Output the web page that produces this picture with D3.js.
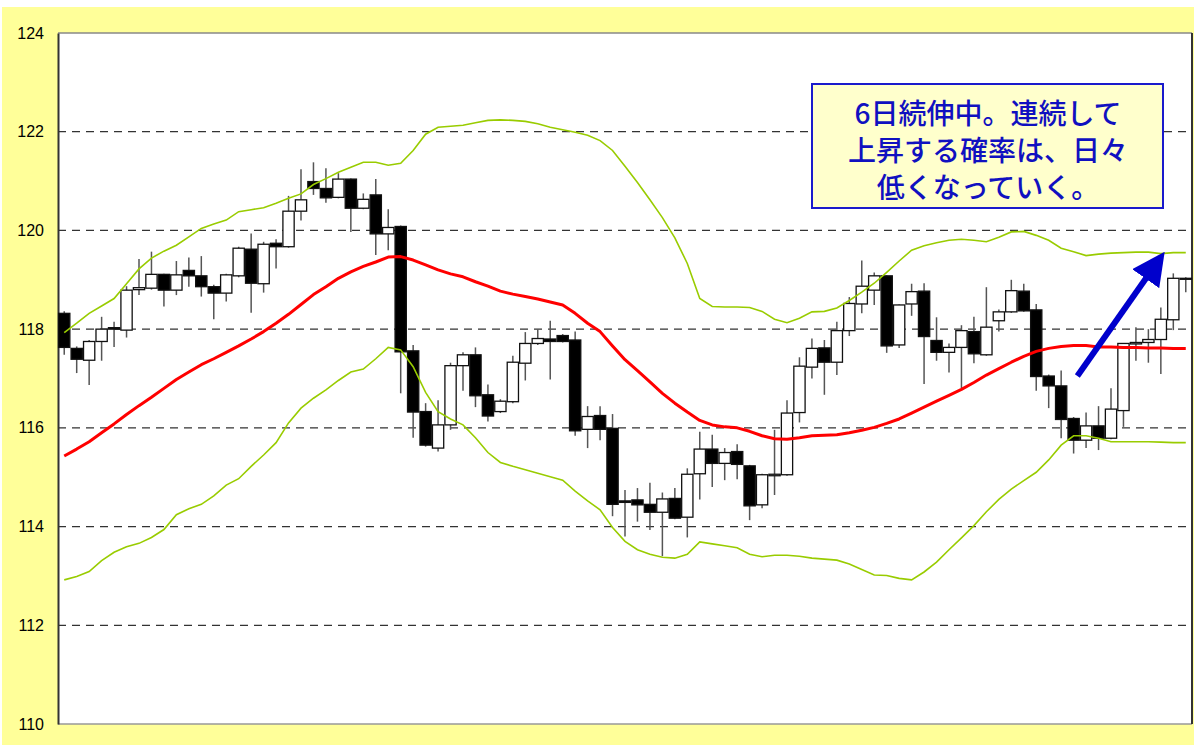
<!DOCTYPE html>
<html lang="ja">
<head>
	<meta charset="utf-8">
	<title>ローソク足とボリンジャーバンド</title>
	<style>
		body { margin: 0; background: #fff; }
		svg { display: block; }
	</style>
</head>
<body>

<script src="https://cdnjs.cloudflare.com/ajax/libs/d3/7.8.5/d3.min.js" charset="utf-8"></script>
<script>
	// 日足 (始値, 高値, 安値, 終値)
	var opens  = [118.32,117.61,117.37,117.75,118.03,117.98,118.80,118.83,119.11,118.79,
	              119.19,119.08,118.86,118.73,119.08,119.62,118.92,119.74,119.67,120.39,
	              120.99,120.85,120.67,121.04,120.45,120.72,119.93,120.08,117.56,116.33,
	              115.59,116.06,117.26,117.48,116.67,116.33,116.53,117.31,117.71,117.80,
	              117.87,117.78,115.97,116.25,115.99,114.52,114.54,114.45,114.29,114.57,
	              114.19,115.07,115.57,115.28,115.52,115.23,114.44,115.03,115.05,116.31,
	              117.23,117.62,117.33,117.97,118.51,118.79,119.08,117.68,118.51,118.77,
	              117.77,117.53,117.63,117.95,117.48,118.17,118.35,118.77,118.39,117.05,
	              116.85,116.19,115.75,116.04,115.79,116.35,117.70,117.73,117.79,118.19,
	              119.01];
	var highs  = [118.36,117.65,117.78,118.25,118.15,118.87,119.42,119.57,119.12,119.38,
	              119.45,119.48,118.90,119.12,119.67,119.94,119.77,119.82,120.70,121.24,
	              121.38,121.26,121.16,121.05,120.75,121.04,120.43,120.10,117.68,116.50,
	              116.56,117.32,117.53,117.63,116.88,116.58,117.46,117.94,118.00,118.17,
	              117.90,117.95,116.44,116.44,116.28,114.74,114.78,114.89,114.69,114.78,
	              115.18,115.92,115.86,115.59,115.67,115.25,115.07,115.96,116.56,117.43,
	              117.81,117.78,118.15,118.65,119.39,119.15,119.09,118.50,118.92,118.93,
	              118.24,117.71,118.08,118.25,118.85,118.40,119.00,118.92,118.51,117.08,
	              117.16,116.22,116.31,116.44,116.80,117.71,118.04,118.00,118.44,119.13,
	              119.05];
	var lows   = [117.48,117.11,116.87,117.36,117.64,117.83,118.69,118.80,118.46,118.69,
	              118.86,118.66,118.20,118.56,119.05,118.33,118.74,119.23,119.65,120.20,
	              120.72,120.56,120.65,119.97,120.43,119.50,119.60,116.70,115.80,115.62,
	              115.52,115.96,116.75,116.42,116.13,116.30,116.50,116.96,117.68,116.98,
	              117.73,115.84,115.59,115.75,114.21,113.80,114.10,113.93,113.40,114.15,
	              113.78,114.55,114.80,114.94,114.96,114.13,114.37,114.64,115.03,116.11,
	              117.00,116.67,117.07,117.86,118.32,118.49,117.52,117.62,118.27,116.89,
	              117.36,117.12,116.80,117.31,117.46,117.95,118.33,118.35,116.75,116.40,
	              115.79,115.48,115.59,115.55,115.77,116.02,117.36,117.32,117.09,117.98,
	              118.75];
	var closes = [117.63,117.39,117.75,118.00,118.00,118.79,118.84,119.11,118.79,119.10,
	              119.08,118.86,118.73,119.10,119.64,118.93,119.72,119.67,120.39,120.62,
	              120.85,120.66,121.04,120.45,120.63,119.93,120.06,117.54,116.32,115.65,
	              116.06,117.26,117.48,116.65,116.24,116.54,117.33,117.71,117.81,117.75,
	              117.75,115.94,116.23,115.97,114.45,114.49,114.44,114.29,114.56,114.17,
	              115.06,115.57,115.28,115.50,115.26,114.42,115.05,115.06,116.30,117.25,
	              117.61,117.33,117.97,118.52,118.87,119.08,117.66,118.49,118.76,117.85,
	              117.53,117.63,117.97,117.50,118.04,118.35,118.78,118.37,117.04,116.85,
	              116.17,115.75,116.04,115.79,116.38,117.71,117.73,117.79,118.20,119.03,
	              119.03];

	// 移動平均線
	var ma = [115.43,115.57,115.72,115.90,116.08,116.27,116.45,116.62,116.80,116.98,
	          117.13,117.28,117.40,117.53,117.66,117.80,117.95,118.12,118.30,118.50,
	          118.70,118.86,119.03,119.16,119.27,119.36,119.46,119.47,119.40,119.30,
	          119.20,119.12,119.06,118.96,118.87,118.77,118.71,118.66,118.61,118.55,
	          118.49,118.32,118.12,117.95,117.66,117.38,117.16,116.93,116.70,116.50,
	          116.32,116.15,116.06,116.02,116.00,115.93,115.84,115.78,115.77,115.80,
	          115.84,115.85,115.86,115.90,115.95,116.01,116.09,116.18,116.30,116.42,
	          116.54,116.66,116.78,116.92,117.07,117.20,117.33,117.45,117.55,117.61,
	          117.65,117.67,117.67,117.64,117.64,117.63,117.63,117.62,117.62,117.61,
	          117.61];

	// ボリンジャーバンド 上限
	var upper = [117.93,118.12,118.32,118.47,118.62,118.92,119.22,119.44,119.58,119.70,
	             119.87,120.04,120.13,120.21,120.38,120.42,120.46,120.55,120.65,120.74,
	             120.93,121.05,121.18,121.28,121.38,121.38,121.32,121.36,121.62,121.95,
	             122.09,122.11,122.13,122.18,122.23,122.24,122.23,122.21,122.16,122.09,
	             122.04,121.99,121.93,121.82,121.62,121.30,120.97,120.62,120.26,119.85,
	             119.33,118.62,118.46,118.45,118.45,118.44,118.36,118.20,118.13,118.22,
	             118.35,118.36,118.43,118.58,118.75,118.93,119.15,119.38,119.60,119.69,
	             119.75,119.80,119.82,119.80,119.77,119.86,119.97,119.98,119.90,119.80,
	             119.64,119.57,119.49,119.52,119.54,119.55,119.56,119.56,119.53,119.55,
	             119.55];

	// ボリンジャーバンド 下限
	var lower = [112.92,112.99,113.09,113.31,113.48,113.59,113.66,113.78,113.94,114.24,
	             114.36,114.45,114.62,114.84,114.97,115.22,115.45,115.70,116.10,116.40,
	             116.60,116.77,116.96,117.13,117.19,117.40,117.63,117.58,117.24,116.72,
	             116.33,116.18,116.06,115.80,115.50,115.30,115.22,115.15,115.08,115.01,
	             114.94,114.72,114.52,114.34,113.98,113.70,113.53,113.44,113.38,113.36,
	             113.44,113.69,113.65,113.61,113.57,113.44,113.39,113.42,113.42,113.40,
	             113.36,113.34,113.32,113.24,113.13,113.02,113.01,112.95,112.92,113.08,
	             113.28,113.53,113.77,114.02,114.30,114.55,114.76,114.93,115.10,115.35,
	             115.65,115.84,115.84,115.79,115.72,115.72,115.72,115.72,115.71,115.70,
	             115.70];

	var yTicks = [110,112,114,116,118,120,122,124];
	var gridTicks = [112,114,116,118,120,122];
	var noteLines = ["6日続伸中。連続して", "上昇する確率は、日々", "低くなっていく。"];
	// 矢印 (足の番号, 価格)
	var arrowFrom = [81.8, 117.05];
	var arrowTo = [88.2, 119.35];

	var w = 1194;
	var h = 745;
	var pl = 58, pr = 1192, pt = 33, pb = 724;

	var svg = d3.select("body").append("svg").attr("width", w).attr("height", h);

	// 背景
	svg.append("rect").attr("x", 2).attr("y", 7).attr("width", w - 2).attr("height", h - 7)
		.attr("fill", "#ffff99");
	svg.append("rect").attr("x", pl).attr("y", pt)
		.attr("width", pr - pl).attr("height", pb - pt)
		.attr("fill", "#fff");

	var x = d3.scaleBand().domain(d3.range(closes.length)).range([pl, pr]).padding(0);
	var y = d3.scaleLinear().domain([110, 124]).range([pb, pt]);
	var bw = x.bandwidth();
	var cx = function(i){ return x(i) + bw / 2; };

	// 目盛り線
	svg.append("g").selectAll("line")
		.data(gridTicks)
		.enter()
		.append("line")
		.attr("x1", pl).attr("x2", pr)
		.attr("y1", function(d){ return y(d); })
		.attr("y2", function(d){ return y(d); })
		.attr("stroke", "#333")
		.attr("stroke-width", 1.2)
		.attr("stroke-dasharray", "8,6");

	// 枠線
	svg.append("line").attr("x1", pl).attr("x2", pr).attr("y1", pt).attr("y2", pt)
		.attr("stroke", "#888").attr("stroke-width", 1.5);
	svg.append("line").attr("x1", pl).attr("x2", pr).attr("y1", pb).attr("y2", pb)
		.attr("stroke", "#999").attr("stroke-width", 1.5);
	svg.append("line").attr("x1", pr).attr("x2", pr).attr("y1", pt).attr("y2", pb)
		.attr("stroke", "#333").attr("stroke-width", 2);

	// 縦軸
	var yAxis = d3.axisLeft(y).tickValues(yTicks).tickSize(0).tickPadding(14)
		.tickFormat(d3.format("d"));
	var ga = svg.append("g").attr("transform", "translate(" + pl + ",0)").call(yAxis);
	ga.select(".domain").attr("stroke", "#333").attr("stroke-width", 2);
	ga.selectAll("text")
		.attr("font-family", "'Liberation Sans', Arial, sans-serif")
		.attr("font-size", 16)
		.attr("fill", "#000");

	// ローソク足
	var idx = d3.range(closes.length);
	var candles = svg.append("g").selectAll("g")
		.data(idx)
		.enter()
		.append("g");

	candles.append("line")
		.attr("x1", function(i){ return cx(i); })
		.attr("x2", function(i){ return cx(i); })
		.attr("y1", function(i){ return y(highs[i]); })
		.attr("y2", function(i){ return y(lows[i]); })
		.attr("stroke", "#555")
		.attr("stroke-width", 1.5);

	candles.append("rect")
		.attr("x", function(i){ return x(i) + 0.6; })
		.attr("width", bw - 1.2)
		.attr("y", function(i){ return y(Math.max(opens[i], closes[i])); })
		.attr("height", function(i){
			return Math.max(1, Math.abs(y(opens[i]) - y(closes[i])));
		})
		.attr("fill", function(i){ return closes[i] >= opens[i] ? "#fff" : "#000"; })
		.attr("stroke", "#111")
		.attr("stroke-width", 1.3);

	// ボリンジャーバンド
	var line = function(arr){
		return d3.line()
			.x(function(d, i){ return cx(i); })
			.y(function(d){ return y(d); })(arr);
	};
	svg.append("path").attr("d", line(upper))
		.attr("fill", "none").attr("stroke", "#99cc00").attr("stroke-width", 1.6);
	svg.append("path").attr("d", line(lower))
		.attr("fill", "none").attr("stroke", "#99cc00").attr("stroke-width", 1.6);

	// 移動平均線
	svg.append("path").attr("d", line(ma))
		.attr("fill", "none").attr("stroke", "#ff0000").attr("stroke-width", 3)
		.attr("stroke-linejoin", "round");

	// コメント
	var note = svg.append("g");
	note.append("rect")
		.attr("x", 812).attr("y", 84).attr("width", 351).attr("height", 124)
		.attr("fill", "#ffffcc")
		.attr("stroke", "#1a1acc")
		.attr("stroke-width", 2);
	note.selectAll("text")
		.data(noteLines)
		.enter()
		.append("text")
		.attr("x", 988)
		.attr("y", function(d, i){ return 124 + i * 37; })
		.attr("text-anchor", "middle")
		.attr("font-family", "'Noto Sans CJK JP', sans-serif")
		.attr("font-size", 28)
		.attr("font-weight", 500)
		.attr("fill", "#1010c0")
		.text(function(d){ return d; });

	// 矢印
	var ax1 = x(Math.floor(arrowFrom[0])) + bw * (arrowFrom[0] % 1);
	var ay1 = y(arrowFrom[1]);
	var ax2 = x(Math.floor(arrowTo[0])) + bw * (arrowTo[0] % 1);
	var ay2 = y(arrowTo[1]);
	svg.append("defs").append("marker")
		.attr("id", "head")
		.attr("viewBox", "0 0 10 10")
		.attr("refX", 6).attr("refY", 5)
		.attr("markerWidth", 5.5).attr("markerHeight", 5.5)
		.attr("markerUnits", "strokeWidth")
		.attr("orient", "auto")
		.append("path")
		.attr("d", "M0,0 L10,5 L0,10 z")
		.attr("fill", "#0000cc");
	svg.append("line")
		.attr("x1", ax1).attr("y1", ay1)
		.attr("x2", ax2).attr("y2", ay2)
		.attr("stroke", "#0000cc")
		.attr("stroke-width", 6)
		.attr("marker-end", "url(#head)");

</script>
</body>
</html>
